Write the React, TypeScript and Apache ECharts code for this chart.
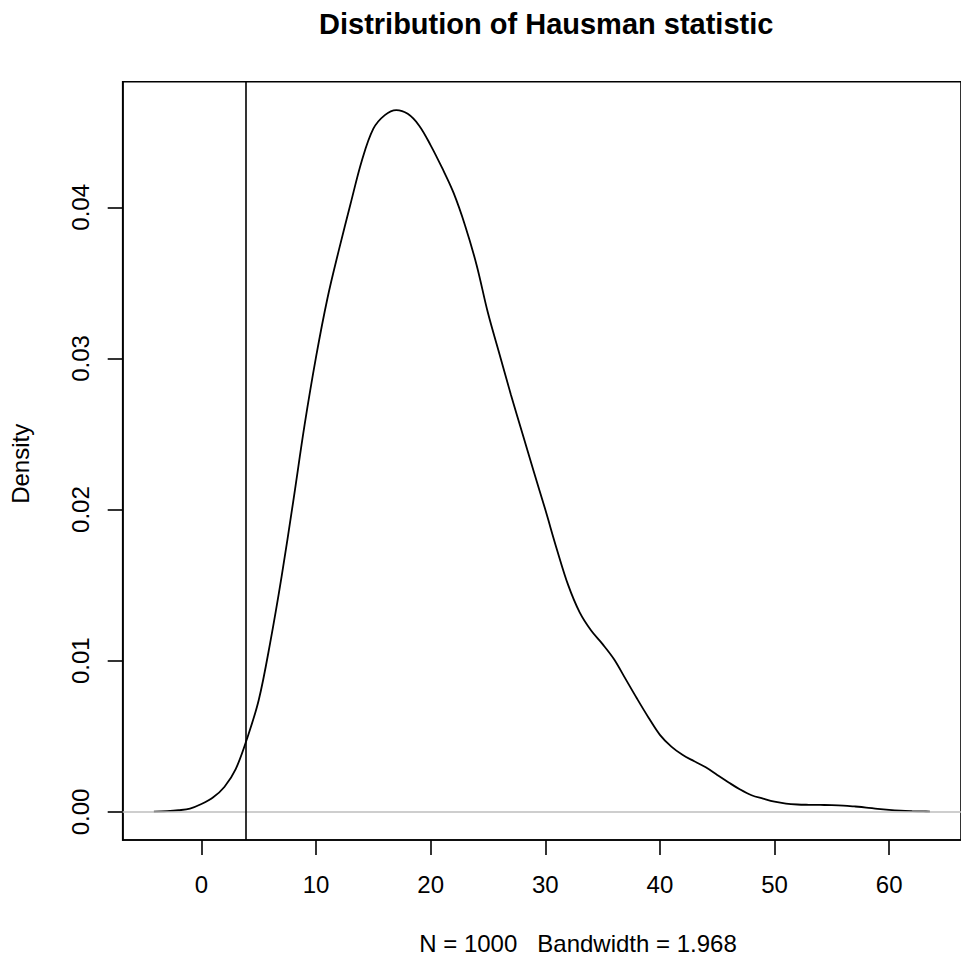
import React, { useEffect, useRef } from "react";
import * as echarts from "echarts";

// Kernel density estimate of the Hausman statistic
const densityX = [
  -4.15, -3, -2, -1, 0, 1, 2, 3, 4, 5, 6, 7, 8, 9, 10, 11, 12, 13, 14, 15, 16, 17, 18, 19,
  20, 21, 22, 23, 24, 25, 26, 27, 28, 29, 30, 31, 32, 33, 34, 35, 36, 37, 38, 39, 40, 41,
  42, 43, 44, 45, 46, 47, 48, 49, 50, 51, 52, 53, 54, 55, 56, 57, 58, 59, 60, 61, 62, 63,
  63.56,
];
const densityY = [
  0.00002, 0.00005, 0.00011, 0.00022, 0.00052, 0.00095, 0.00165, 0.00285, 0.0049,
  0.0074, 0.0112, 0.0156, 0.0205, 0.0256, 0.0301, 0.034, 0.0372, 0.0402, 0.0431, 0.0452,
  0.0461, 0.04643, 0.04618, 0.0454, 0.0441, 0.0426, 0.04095, 0.0388, 0.0362, 0.033,
  0.0303, 0.0276, 0.02505, 0.0225, 0.02, 0.0174, 0.015, 0.0132, 0.012, 0.0111, 0.0101,
  0.0088, 0.0075, 0.00625, 0.0051, 0.00432, 0.00376, 0.00335, 0.00295, 0.00245, 0.00195,
  0.00148, 0.0011, 0.00088, 0.00068, 0.00055, 0.00049, 0.00047, 0.00046, 0.00045,
  0.00042, 0.00036, 0.00029, 0.0002, 0.00013, 0.00008, 0.00005, 0.00003, 0.00002,
];
const xTicks = [0, 10, 20, 30, 40, 50, 60];
const yTicks = [0, 0.01, 0.02, 0.03, 0.04];
const criticalValue = 3.84;
const titleText = "Distribution of Hausman statistic";
const subText = "N = 1000   Bandwidth = 1.968";
const yLabel = "Density";

const FONT = "'Liberation Sans', Arial, Helvetica, sans-serif";

export default function App() {
  const ref = useRef<HTMLDivElement>(null);
  useEffect(() => {
    if (!ref.current) return;
    const chart = echarts.init(ref.current, null, { renderer: "svg" });
    const points = densityX.map((x, i) => [x, densityY[i]]);
    const gridLeft = 122.7;
    const gridTop = 81.7;
    const gridWidth = 847;
    const gridHeight = 758.3;
    chart.setOption({
      animation: false,
      backgroundColor: "#ffffff",
      textStyle: { fontFamily: FONT },
      grid: {
        left: gridLeft,
        top: gridTop,
        width: gridWidth,
        height: gridHeight,
        show: true,
        borderColor: "#000",
        borderWidth: 1.6,
        backgroundColor: "transparent",
      },
      xAxis: {
        type: "value",
        min: -6.87,
        max: 66.27,
        axisLine: { show: true, onZero: false, lineStyle: { color: "#000", width: 1.6 } },
        axisTick: {
          show: true,
          length: 15,
          inside: false,
          customValues: xTicks,
          lineStyle: { color: "#000", width: 1.6 },
        },
        axisLabel: {
          show: true,
          customValues: xTicks,
          margin: 32,
          fontSize: 24,
          color: "#000",
          fontFamily: FONT,
          formatter: (v: number) => String(v),
        },
        splitLine: { show: false },
      },
      yAxis: {
        type: "value",
        min: -0.001858,
        max: 0.048308,
        axisLine: { show: true, onZero: false, lineStyle: { color: "#000", width: 1.6 } },
        axisTick: {
          show: true,
          length: 15,
          inside: false,
          customValues: yTicks,
          lineStyle: { color: "#000", width: 1.6 },
        },
        axisLabel: {
          show: true,
          customValues: yTicks,
          rotate: 90,
          margin: 30,
          fontSize: 24,
          color: "#000",
          fontFamily: FONT,
          formatter: (v: number) => v.toFixed(2),
        },
        splitLine: { show: false },
      },
      series: [
        {
          type: "line",
          data: [],
          silent: true,
          markLine: {
            silent: true,
            symbol: ["none", "none"],
            label: { show: false },
            data: [
              { yAxis: 0, lineStyle: { color: "#bebebe", width: 1.6, type: "solid" } },
              { xAxis: criticalValue, lineStyle: { color: "#000", width: 1.6, type: "solid" } },
            ],
          },
        },
        {
          type: "line",
          data: points,
          showSymbol: false,
          symbol: "none",
          smooth: 0.35,
          silent: true,
          lineStyle: { color: "#000", width: 1.8 },
        },
      ],
      graphic: [
        {
          type: "text",
          x: gridLeft + gridWidth / 2,
          y: 24,
          style: {
            text: titleText,
            font: `bold 29px ${FONT}`,
            fill: "#000",
            textAlign: "center",
            textVerticalAlign: "middle",
          },
        },
        {
          type: "text",
          x: 578,
          y: 943,
          style: {
            text: subText,
            font: `24px ${FONT}`,
            fill: "#000",
            textAlign: "center",
            textVerticalAlign: "middle",
          },
        },
        {
          type: "text",
          x: 20,
          y: gridTop + gridHeight / 2 + 3,
          rotation: Math.PI / 2,
          style: {
            text: yLabel,
            font: `24px ${FONT}`,
            fill: "#000",
            textAlign: "center",
            textVerticalAlign: "middle",
          },
        },
      ],
    });
    return () => chart.dispose();
  }, []);
  return (
    <div
      ref={ref}
      style={{ position: "fixed", left: 0, top: 0, width: 961, height: 956 }}
    />
  );
}
